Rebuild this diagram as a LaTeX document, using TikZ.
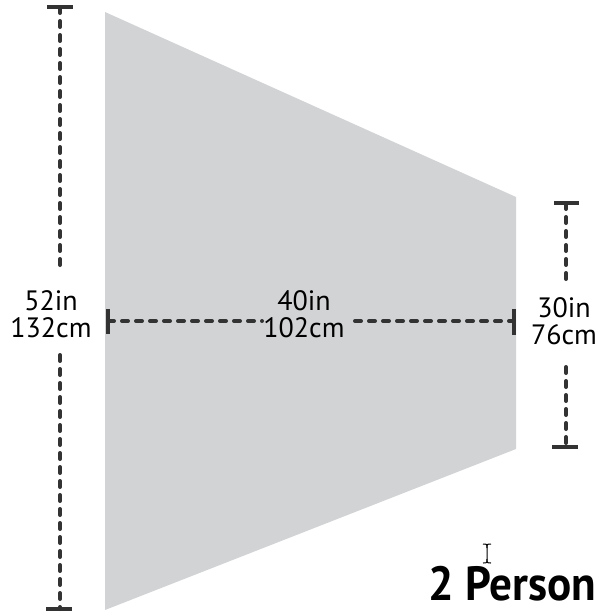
\documentclass[tikz,border=0pt]{standalone}
\usepackage{fontspec}
\setmainfont{PT Sans}
\definecolor{shapegray}{HTML}{D1D3D4}
\definecolor{dimgray}{HTML}{333333}
\tikzset{
  dimline/.style={draw=dimgray, line width=4pt, line cap=round, dash pattern=on 6pt off 8pt},
  dimtick/.style={draw=dimgray, line width=4pt},
  dimlabel/.style={font=\fontsize{28}{27}\selectfont, align=center, text=black, inner sep=0pt},
}
\begin{document}
\begin{tikzpicture}[x=1pt,y=-1pt]
\useasboundingbox (0,0) rectangle (613,613);
% shape
\fill[shapegray] (105,12) -- (516,197) -- (516,449) -- (105,610) -- cycle;
% left dimension
\coordinate (LT) at (60,7);
\coordinate (LB) at (60,609);
\coordinate (LT2) at (60,270);
\coordinate (LB2) at (60,355);
\node[dimlabel] (L) at (51,314) {52in\\132cm};
\draw[dimtick] (47,7) -- (73,7);
\draw[dimtick] (46,609) -- (72,609);
\draw[dimline] (LT) -- (LT2);
\draw[dimline] (LB2) -- (LB);
% horizontal dimension
\coordinate (HL) at (108,321);
\coordinate (HR) at (514,321);
\coordinate (HL2) at (262,321);
\coordinate (HR2) at (355,321);
\node[dimlabel] (H) at (304,314) {40in\\102cm};
\draw[dimtick] (108,309) -- (108,334);
\draw[dimtick] (514,309) -- (514,335);
\draw[dimline] (HL) -- (HL2);
\draw[dimline] (HR2) -- (HR);
% right dimension
\coordinate (RT) at (566,203);
\coordinate (RB) at (566,447);
\coordinate (RT2) at (566,285);
\coordinate (RB2) at (566,367);
\node[dimlabel] (R) at (564,321) {30in\\76cm};
\draw[dimtick] (554,203) -- (579,203);
\draw[dimtick] (552,447) -- (578,447);
\draw[dimline] (RT) -- (RT2);
\draw[dimline] (RB2) -- (RB);
% cursor
\draw[black, line width=1pt] (483,544) .. controls (487,544) .. (487,548) -- (487,559) .. controls (487,563) .. (483,563);
\draw[black, line width=1pt] (491,544) .. controls (487,544) .. (487,548);
\draw[black, line width=1pt] (491,563) .. controls (487,563) .. (487,559);
% title
\node[anchor=base west, inner sep=0pt, font=\bfseries\fontsize{48}{48}\selectfont] (T) at (428,600) {\scalebox{0.94}[1]{2 Person}};
\end{tikzpicture}
\end{document}
